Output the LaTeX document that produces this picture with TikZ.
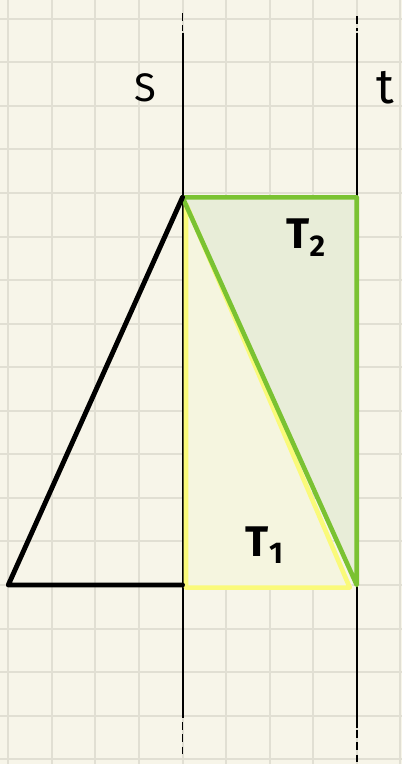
\documentclass[tikz,border=0pt]{standalone}
\usepackage{fontspec}
\setmainfont{Fira Sans}
\usepackage{xcolor}
\usepackage{tikz}
\usetikzlibrary{positioning}

\definecolor{paper}{HTML}{F7F5E9}
\definecolor{gridline}{HTML}{E1DFD3}
\definecolor{leafgreen}{HTML}{7AC232}
\definecolor{leaffill}{HTML}{E8EDD8}
\definecolor{lemon}{HTML}{FAFA7A}
\definecolor{lemonfill}{HTML}{F5F5DF}

\begin{document}
\begin{tikzpicture}[
  cut/.style={line width=1.3pt,black},
  cutend/.style={line width=1.1pt,black,dash pattern=on 5pt off 3pt},
  edge/.style={line width=3.2pt,black,line cap=round,line join=round},
  sidename/.style={font=\fontsize{26}{28}\selectfont,inner sep=0pt},
  partname/.style={font=\fontsize{28}{30}\selectfont\bfseries,inner sep=0pt}]
\fill[paper] (-4.19,-4.11) rectangle (5.04,13.43);
\useasboundingbox (-4.19,-4.11) rectangle (5.04,13.43);
\draw[gridline,line width=1.3pt] (-4.19,-4.11) grid (5.04,13.43);

% corners of the figure
\coordinate (base) at (-4,0);
\coordinate (apex) at (0,8.9);
\coordinate (foot) at (0,0);
\coordinate (corner) at (4,8.9);
\coordinate (tip) at (4,0);

% the two halves
\fill[lemonfill] (0.05,8.85) -- (0.05,-0.04) -- (3.9,-0.04) -- cycle;
\fill[leaffill] (apex) -- (corner) -- (tip) -- cycle;

% the lines s and t
\draw[cut] (0,12.68) -- (0,-3.05);
\draw[cutend] (0,13.13) -- (0,12.72);
\draw[cutend] (0,-3.15) -- (0,-3.95);
\draw[cut] (4,12.68) -- (4,-3.28);
\draw[cutend] (4,13.06) -- (4,12.72);
\draw[cutend] (4,-3.33) -- (4,-4.11);

\draw[lemon,line width=3pt,line join=round] (0.08,8.75) -- (0.08,-0.06) -- (3.84,-0.06) -- cycle;
\draw[leafgreen,line width=3pt,line join=round] (apex) -- (corner) -- (tip) -- cycle;
\draw[edge] (foot) -- (base) -- (apex);

\node[sidename] (s) at (-0.86,11.41) {S};
\node[sidename,font=\fontsize{32}{34}\selectfont] (t) at (4.66,11.41) {t};
\node[partname] (T2) at (2.84,7.97) {T\textsubscript{2}};
\node[partname] (T1) at (1.89,0.92) {T\textsubscript{1}};
\end{tikzpicture}
\end{document}
